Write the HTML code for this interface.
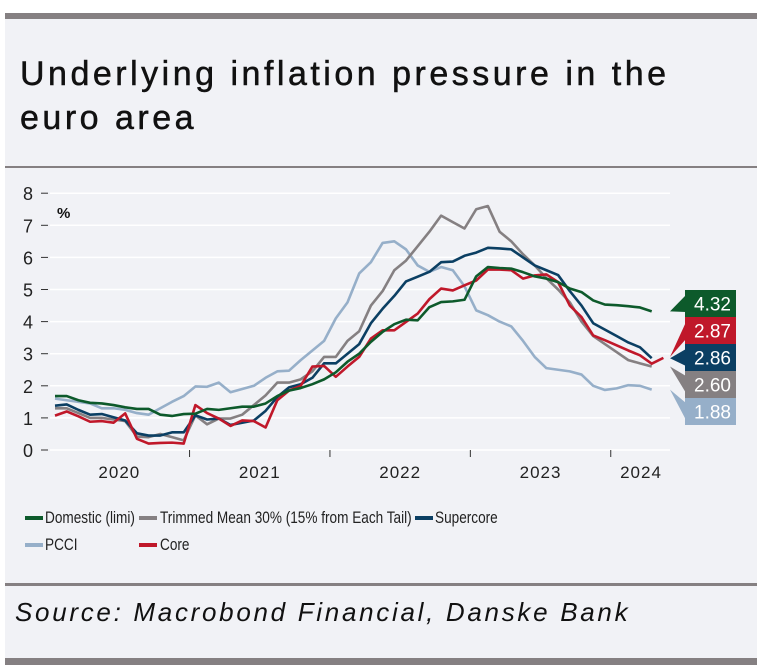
<!DOCTYPE html>
<html><head><meta charset="utf-8"><style>
body{margin:0;width:757px;height:665px;background:#fff;overflow:hidden;font-family:"Liberation Sans",sans-serif}
#panel{position:absolute;left:5px;top:13px;width:752px;height:652px;background:#f1f2f6}
.bar{position:absolute;left:5px;width:752px;background:#858082}
#title{position:absolute;left:20px;top:52px;font-size:34px;line-height:44px;color:#111;letter-spacing:3.5px;-webkit-text-stroke:0.5px #111}
.lt{position:absolute;font-size:17px;color:#222;transform:scaleX(0.8);transform-origin:left center;white-space:nowrap;line-height:20px}
.sw{position:absolute;width:18px;height:4px}
#src{position:absolute;left:15px;top:597px;font-size:26px;font-style:italic;color:#111;letter-spacing:2.7px}
</style></head><body>
<div id="panel"></div>
<div class="bar" style="top:13px;height:6px"></div>
<div id="title">Underlying inflation pressure in the<br>euro area</div>
<div class="bar" style="top:166px;height:2px"></div>
<svg id="chart" width="757" height="665" style="position:absolute;left:0;top:0"></svg>
<div><div class="sw" style="left:25px;top:516px;background:#0d5a2b"></div><div class="lt" style="left:45px;top:508px">Domestic (limi)</div></div>
<div><div class="sw" style="left:139px;top:516px;background:#858082"></div><div class="lt" style="left:160px;top:508px">Trimmed Mean 30% (15% from Each Tail)</div></div>
<div><div class="sw" style="left:415px;top:516px;background:#0b3f63"></div><div class="lt" style="left:435px;top:508px">Supercore</div></div>
<div><div class="sw" style="left:25px;top:543px;background:#96afc9"></div><div class="lt" style="left:45px;top:535px">PCCI</div></div>
<div><div class="sw" style="left:139px;top:543px;background:#c0182a"></div><div class="lt" style="left:160px;top:535px">Core</div></div>
<div class="bar" style="top:583px;height:3px"></div>
<div id="src">Source: Macrobond Financial, Danske Bank</div>
<div class="bar" style="top:658px;height:7px"></div>
<script>
const yTicks=[0,1,2,3,4,5,6,7,8];
const yearLabels=["2020","2021","2022","2023","2024"];
const pcci=[1.6,1.55,1.5,1.45,1.3,1.3,1.25,1.15,1.1,1.3,1.5,1.68,1.98,1.97,2.1,1.8,1.9,2.0,2.25,2.45,2.47,2.8,3.1,3.4,4.1,4.6,5.5,5.85,6.45,6.5,6.25,5.75,5.55,5.7,5.6,5.1,4.35,4.2,4.0,3.85,3.4,2.9,2.55,2.5,2.45,2.35,2.0,1.87,1.92,2.02,2.0,1.88];
const trimmed=[1.3,1.3,1.15,1.0,1.0,0.95,0.9,0.42,0.4,0.5,0.4,0.3,1.08,0.8,0.98,0.98,1.1,1.4,1.7,2.1,2.1,2.2,2.45,2.9,2.9,3.4,3.7,4.5,4.95,5.6,5.9,6.35,6.8,7.3,7.1,6.9,7.5,7.6,6.8,6.5,6.1,5.75,5.35,5.0,4.6,4.0,3.55,3.3,3.05,2.8,2.7,2.6];
const supercore=[1.38,1.42,1.25,1.1,1.12,1.02,0.92,0.52,0.45,0.45,0.55,0.55,1.08,0.95,0.98,0.78,0.85,0.92,1.22,1.65,1.95,2.05,2.25,2.7,2.7,3.0,3.3,3.95,4.4,4.8,5.25,5.4,5.55,5.85,5.87,6.05,6.15,6.3,6.28,6.25,6.0,5.75,5.6,5.45,4.95,4.5,3.95,3.75,3.55,3.35,3.2,2.86];
const core=[1.07,1.2,1.05,0.88,0.9,0.85,1.14,0.35,0.2,0.22,0.23,0.2,1.4,1.15,0.98,0.75,0.92,0.9,0.7,1.55,1.85,2.0,2.6,2.62,2.28,2.6,2.9,3.47,3.73,3.73,3.99,4.25,4.7,5.03,4.97,5.13,5.28,5.62,5.62,5.6,5.34,5.44,5.47,5.23,4.5,4.14,3.57,3.42,3.26,3.1,2.95,2.69,2.87];
const domestic=[1.68,1.68,1.55,1.47,1.45,1.4,1.33,1.28,1.28,1.1,1.06,1.12,1.13,1.28,1.25,1.3,1.35,1.35,1.45,1.68,1.85,1.93,2.05,2.2,2.42,2.75,3.0,3.37,3.68,3.92,4.06,4.04,4.45,4.61,4.63,4.68,5.41,5.7,5.67,5.65,5.54,5.41,5.34,5.23,5.03,4.92,4.66,4.53,4.51,4.48,4.44,4.32];
const seriesNames=["pcci","trimmed-mean","supercore","core","domestic"];
const seriesColors=["#96afc9","#858082","#0b3f63","#c0182a","#0d5a2b"];
const endLabels=["4.32","2.87","2.86","2.60","1.88"];
const NS="http://www.w3.org/2000/svg";
const svg=document.getElementById('chart');
const x=m=>55+11.7*m;
const y=v=>450-v*32.1;
function mk(t,a){const e=document.createElementNS(NS,t);for(const k in a)e.setAttribute(k,a[k]);svg.appendChild(e);return e;}
yTicks.forEach(v=>{
  if(v>0){const g=mk('line',{x1:50,x2:670,y1:y(v),y2:y(v),stroke:'#fff','stroke-width':1.5});
  
  }
  const t=mk('line',{x1:41,x2:48,y1:y(v),y2:y(v),stroke:'#333','stroke-width':1});
  
  
  const l=mk('text',{x:33,y:y(v)+7,'text-anchor':'end','font-size':18,fill:'#222','font-family':'Liberation Sans, sans-serif'});
  l.textContent=v;
  
  
});
const pct=mk('text',{x:57,y:218,'font-size':15,fill:'#111','font-weight':'bold'});pct.textContent='%';


mk('line',{x1:50,x2:670,y1:450,y2:450,stroke:'#fff','stroke-width':1.5});
yearLabels.forEach((yr,i)=>{
  const b=x(-0.5+12*i);
  if(i>0){const t=mk('line',{x1:b,x2:b,y1:450,y2:457,stroke:'#333'});
  
  }
  const c=i<4?x(5.5+12*i):641;
  const l=mk('text',{x:c,y:478,'text-anchor':'middle','font-size':17,fill:'#222',"letter-spacing":1});
  l.textContent=yr;
  
  
});
[pcci,trimmed,supercore,core,domestic].forEach((s,i)=>{
  const p=mk('polyline',{points:s.map((v,m)=>x(m)+','+y(v)).join(' '),fill:'none',stroke:seriesColors[i],'stroke-width':2.6,'stroke-linejoin':'round'});
  
  
});
const lastVals=[domestic[domestic.length-1],core[core.length-1],supercore[supercore.length-1],trimmed[trimmed.length-1],pcci[pcci.length-1]];
const lblColors=["#0d5a2b","#c0182a","#0b3f63","#858082","#96afc9"];
endLabels.forEach((txt,i)=>{
  const top=290+27*i, cy=top+13.5;
  const ty=Math.max(top-13,Math.min(top+40,y(lastVals[i])));
  const tri=mk('polygon',{points:`686,${top+5} 686,${top+22} 670,${ty}`,fill:lblColors[i]});
  
  
  const r=mk('rect',{x:685,y:top,width:51,height:27,fill:lblColors[i]});
  
  
  const t=mk('text',{x:731,y:cy+7,'text-anchor':'end','font-size':19,fill:'#fff'});
  t.textContent=txt;
  
  
});
</script>
</body></html>
